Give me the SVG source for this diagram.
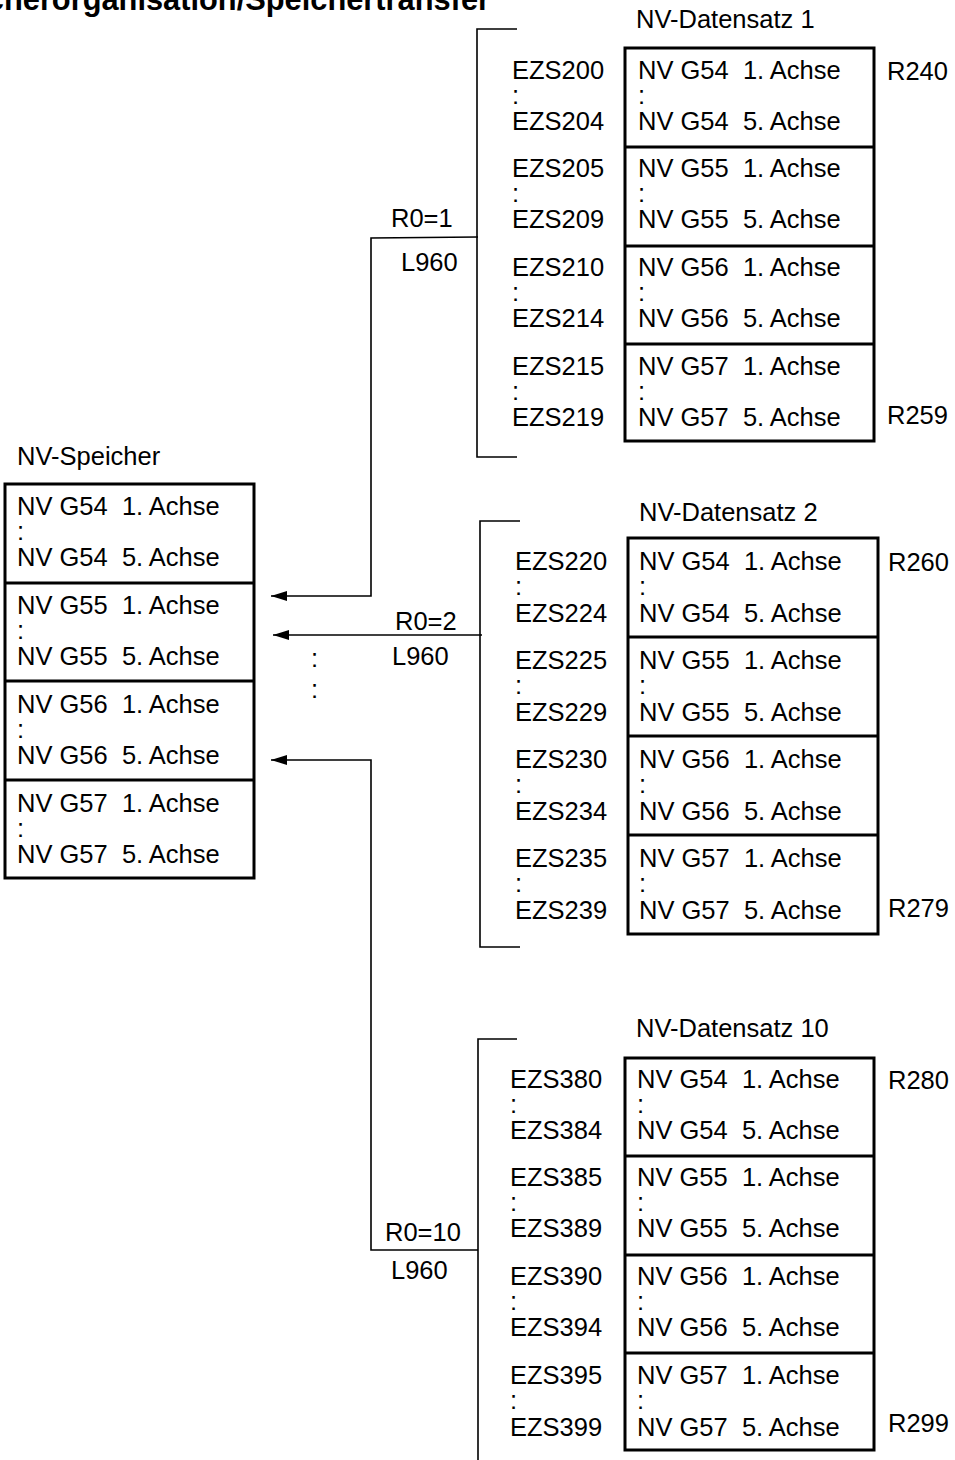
<svg xmlns="http://www.w3.org/2000/svg" width="955" height="1460" viewBox="0 0 955 1460" xml:space="preserve">
<defs>
<style>
text{font-family:"Liberation Sans",Arial,sans-serif;font-size:25.5px;fill:#000;white-space:pre}
.title{font-weight:bold;font-size:30.8px}
.box{fill:none;stroke:#000;stroke-width:3}
.ln{fill:none;stroke:#000;stroke-width:1.6}
</style>
<marker id="arr" markerWidth="16" markerHeight="10" refX="16" refY="5" orient="auto" markerUnits="userSpaceOnUse">
<path d="M0,0 L16,5 L0,10 Z" fill="#000"/>
</marker>
</defs>
<rect width="955" height="1460" fill="#fff"/>
<text class="title" x="490" y="10" text-anchor="end">Speicherorganisation/Speichertransfer</text>
<g id="nv-speicher">
<text x="17" y="465">NV-Speicher</text>
<rect class="box" x="5" y="484" width="249" height="394"/>
<line class="box" x1="5" y1="583" x2="254" y2="583"/>
<line class="box" x1="5" y1="681" x2="254" y2="681"/>
<line class="box" x1="5" y1="780" x2="254" y2="780"/>
<text x="17" y="515">NV G54  1. Achse</text><text x="17" y="540">:</text><text x="17" y="566">NV G54  5. Achse</text>
<text x="17" y="614">NV G55  1. Achse</text><text x="17" y="639">:</text><text x="17" y="665">NV G55  5. Achse</text>
<text x="17" y="713">NV G56  1. Achse</text><text x="17" y="738">:</text><text x="17" y="764">NV G56  5. Achse</text>
<text x="17" y="812">NV G57  1. Achse</text><text x="17" y="837">:</text><text x="17" y="863">NV G57  5. Achse</text>
</g>
<g id="datensatz1">
<text x="636" y="28">NV-Datensatz 1</text>
<rect class="box" x="625" y="48" width="249" height="393"/>
<line class="box" x1="625" y1="147" x2="874" y2="147"/>
<line class="box" x1="625" y1="246" x2="874" y2="246"/>
<line class="box" x1="625" y1="344" x2="874" y2="344"/>
<text x="512" y="79">EZS200</text><text x="512" y="104">:</text><text x="512" y="130">EZS204</text>
<text x="512" y="177">EZS205</text><text x="512" y="202">:</text><text x="512" y="228">EZS209</text>
<text x="512" y="276">EZS210</text><text x="512" y="301">:</text><text x="512" y="327">EZS214</text>
<text x="512" y="375">EZS215</text><text x="512" y="400">:</text><text x="512" y="426">EZS219</text>
<text x="638" y="79">NV G54  1. Achse</text><text x="638" y="104">:</text><text x="638" y="130">NV G54  5. Achse</text>
<text x="638" y="177">NV G55  1. Achse</text><text x="638" y="202">:</text><text x="638" y="228">NV G55  5. Achse</text>
<text x="638" y="276">NV G56  1. Achse</text><text x="638" y="301">:</text><text x="638" y="327">NV G56  5. Achse</text>
<text x="638" y="375">NV G57  1. Achse</text><text x="638" y="400">:</text><text x="638" y="426">NV G57  5. Achse</text>
<text x="887" y="80">R240</text>
<text x="887" y="424">R259</text>
<polyline class="ln" points="517,29 477,29 477,457 517,457"/>
</g>
<g id="datensatz2">
<text x="639" y="521">NV-Datensatz 2</text>
<rect class="box" x="628" y="538" width="250" height="396"/>
<line class="box" x1="628" y1="637" x2="878" y2="637"/>
<line class="box" x1="628" y1="736" x2="878" y2="736"/>
<line class="box" x1="628" y1="835" x2="878" y2="835"/>
<text x="515" y="570">EZS220</text><text x="515" y="595">:</text><text x="515" y="622">EZS224</text>
<text x="515" y="669">EZS225</text><text x="515" y="694">:</text><text x="515" y="721">EZS229</text>
<text x="515" y="768">EZS230</text><text x="515" y="793">:</text><text x="515" y="820">EZS234</text>
<text x="515" y="867">EZS235</text><text x="515" y="892">:</text><text x="515" y="919">EZS239</text>
<text x="639" y="570">NV G54  1. Achse</text><text x="639" y="595">:</text><text x="639" y="622">NV G54  5. Achse</text>
<text x="639" y="669">NV G55  1. Achse</text><text x="639" y="694">:</text><text x="639" y="721">NV G55  5. Achse</text>
<text x="639" y="768">NV G56  1. Achse</text><text x="639" y="793">:</text><text x="639" y="820">NV G56  5. Achse</text>
<text x="639" y="867">NV G57  1. Achse</text><text x="639" y="892">:</text><text x="639" y="919">NV G57  5. Achse</text>
<text x="888" y="571">R260</text>
<text x="888" y="917">R279</text>
<polyline class="ln" points="520,521 480,521 480,947 520,947"/>
</g>
<g id="datensatz10">
<text x="636" y="1037">NV-Datensatz 10</text>
<rect class="box" x="625" y="1058" width="249" height="392"/>
<line class="box" x1="625" y1="1156" x2="874" y2="1156"/>
<line class="box" x1="625" y1="1255" x2="874" y2="1255"/>
<line class="box" x1="625" y1="1353" x2="874" y2="1353"/>
<text x="510" y="1088">EZS380</text><text x="510" y="1113">:</text><text x="510" y="1139">EZS384</text>
<text x="510" y="1186">EZS385</text><text x="510" y="1211">:</text><text x="510" y="1237">EZS389</text>
<text x="510" y="1285">EZS390</text><text x="510" y="1310">:</text><text x="510" y="1336">EZS394</text>
<text x="510" y="1384">EZS395</text><text x="510" y="1409">:</text><text x="510" y="1436">EZS399</text>
<text x="637" y="1088">NV G54  1. Achse</text><text x="637" y="1113">:</text><text x="637" y="1139">NV G54  5. Achse</text>
<text x="637" y="1186">NV G55  1. Achse</text><text x="637" y="1211">:</text><text x="637" y="1237">NV G55  5. Achse</text>
<text x="637" y="1285">NV G56  1. Achse</text><text x="637" y="1310">:</text><text x="637" y="1336">NV G56  5. Achse</text>
<text x="637" y="1384">NV G57  1. Achse</text><text x="637" y="1409">:</text><text x="637" y="1436">NV G57  5. Achse</text>
<text x="888" y="1089">R280</text>
<text x="888" y="1432">R299</text>
<polyline class="ln" points="517,1039 478,1039 478,1460"/>
</g>
<g id="connectors">
<polyline class="ln" points="478,237 371,238 371,596 271,596" marker-end="url(#arr)"/>
<polyline class="ln" points="482,635 273,635" marker-end="url(#arr)"/>
<polyline class="ln" points="478,1250 371,1250 371,760 271,760" marker-end="url(#arr)"/>
<text x="391" y="227">R0=1</text>
<text x="401" y="271">L960</text>
<text x="395" y="630">R0=2</text>
<text x="392" y="665">L960</text>
<text x="385" y="1241">R0=10</text>
<text x="391" y="1279">L960</text>
<text x="311" y="667">:</text>
<text x="311" y="698">:</text>
</g>
</svg>
